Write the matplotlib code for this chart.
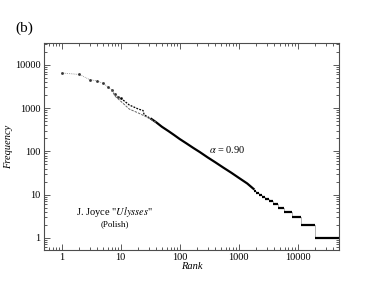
import numpy as np
import matplotlib
matplotlib.use("Agg")
import matplotlib.pyplot as plt
from matplotlib.ticker import FixedLocator, FixedFormatter, LogLocator, NullFormatter

# rank-frequency data
rank_head = [1, 2, 3, 4, 5, 6, 7, 8, 9, 10]
freq_head = [6500, 6000, 4550, 4250, 3750, 3150, 2650, 2150, 1850, 1700]

# upper (data) branch, ranks 10 .. ~1900
rank_body = [10, 12, 14, 17, 20, 24, 25, 28, 32, 40, 50, 65, 80, 100,
             130, 170, 220, 300, 400, 550, 750, 1000, 1400, 1850]
freq_body = [1700, 1400, 1180, 1050, 950, 880, 700, 640, 580, 470, 370, 292,
             240, 193, 153, 120, 96, 72, 56, 42, 32, 24.5, 18, 13]

# lower dashed branch
rank_low = [7, 8, 10, 14, 20, 27, 40]
freq_low = [2650, 1900, 1450, 950, 770, 630, 470]

# staircase of low frequencies: first rank with each frequency
step_freq = [12, 11, 10, 9, 8, 7, 6, 5, 4, 3, 2, 1]
step_start = [1850, 2000, 2200, 2500, 2850, 3300, 3900, 4600, 5800, 7900, 11200, 19400]
last_rank = 50000

alpha_label = r"$\alpha$ = 0.90"

plt.rcParams['font.family'] = ['Liberation Serif', 'DejaVu Serif']
plt.rcParams['mathtext.fontset'] = 'stix'

fig = plt.figure(figsize=(3.82, 2.95), dpi=100)
ax = fig.add_axes([0.115, 0.1525, 0.772, 0.7015])

# head: small dots joined by dotted line
ax.plot(rank_head, freq_head, color='0.55', lw=0.6, ls=(0, (1, 1.2)),
        marker='s', ms=0.9, mfc='0.2', mec='0.2')
# upper branch, dashed where sparse, thick where dense
r_b = np.array(rank_body)
f_b = np.array(freq_body)
sparse = r_b <= 32
ax.plot(r_b[sparse], f_b[sparse], color='k', lw=0.9, ls=(0, (1.5, 1)))
dense = r_b >= 32
ax.plot(r_b[dense], f_b[dense], color='k', lw=1.6, solid_capstyle='butt')
# lower branch
ax.plot(rank_low, freq_low, color='0.4', lw=0.7, ls=(0, (2.5, 1.2)))

# staircase
edges = step_start + [last_rank]
ax.plot([rank_body[-1]] + step_start, [freq_body[-1]] + step_freq,
        color='0.65', lw=0.6, drawstyle='steps-post')
ax.hlines(step_freq, edges[:-1], edges[1:], color='k', lw=1.6)

ax.set_xscale('log')
ax.set_yscale('log')
ax.set_xlim(0.5, 50000)
ax.set_ylim(0.52, 32000)

xt = [1, 10, 100, 1000, 10000]
ax.xaxis.set_major_locator(FixedLocator(xt))
ax.xaxis.set_major_formatter(FixedFormatter([str(v) for v in xt]))
ax.yaxis.set_major_locator(FixedLocator(xt))
ax.yaxis.set_major_formatter(FixedFormatter([str(v) for v in xt]))
for a in (ax.xaxis, ax.yaxis):
    a.set_minor_locator(LogLocator(base=10, subs=np.arange(2, 10), numticks=20))
    a.set_minor_formatter(NullFormatter())

ax.tick_params(which='both', direction='in', top=True, right=True,
               labelsize=7.5, colors='0.25', labelcolor='k', width=0.6)
ax.tick_params(which='major', length=4, pad=2.5)
ax.tick_params(which='minor', length=2)
for s in ax.spines.values():
    s.set_color('0.3')
    s.set_linewidth(0.8)

ax.set_xlabel('Rank', fontsize=7.5, style='italic', labelpad=0)
ax.set_ylabel('Frequency', fontsize=7.5, style='italic')
ax.yaxis.set_label_coords(-0.105, 0.5)

ax.text(310, 113, alpha_label, fontsize=7.5, va='center', ha='left')
ax.text(7.9, 4.0, r'J. Joyce "$\mathit{Ulysses}$"', fontsize=7.5, va='center', ha='center')
ax.text(7.9, 2.07, '(Polish)', fontsize=6.5, va='center', ha='center')

fig.text(0.04, 0.905, '(b)', fontsize=11, va='center', ha='left')

fig.savefig('out.png', dpi=100)
